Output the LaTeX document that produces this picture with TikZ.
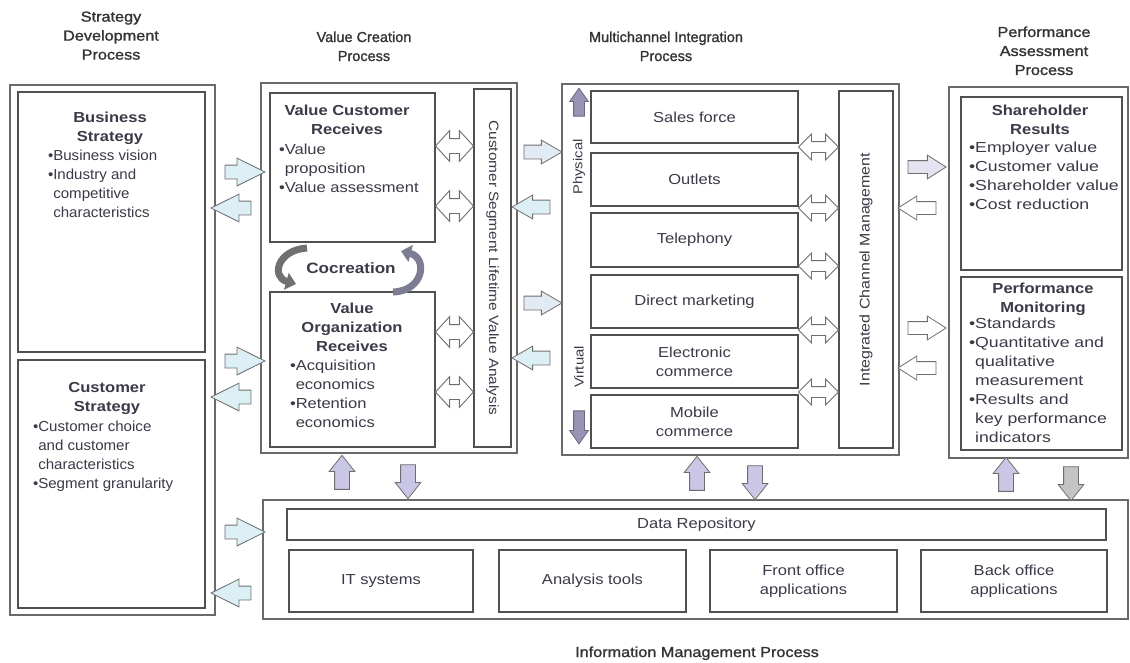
\documentclass[tikz,border=0pt]{standalone}
\usepackage{fontspec}
\setmainfont[FakeStretch=1.14]{Liberation Sans}
\newfontfamily\leftfont[FakeStretch=1.04]{Liberation Sans}
\newfontfamily\rightfont[FakeStretch=1.22]{Liberation Sans}
\newfontfamily\headfont[FakeStretch=1.12,FakeBold=1.3]{Liberation Sans}
\newfontfamily\midheadfont[FakeBold=1.3]{Liberation Sans}
\usetikzlibrary{shapes.arrows,arrows.meta,fit}

\definecolor{txt}{HTML}{3A3A48}
\definecolor{headtxt}{HTML}{333333}
\definecolor{outerline}{HTML}{6A6A6A}
\definecolor{innerline}{HTML}{505050}
\definecolor{arrline}{HTML}{6E6E6E}
\definecolor{cyanfill}{HTML}{DCEFF5}
\definecolor{mixfill}{HTML}{E2EAF4}
\definecolor{lavlight}{HTML}{E6E2F0}
\definecolor{lavfill}{HTML}{C9C6E6}
\definecolor{greyfill}{HTML}{C4C4C4}
\definecolor{physfill}{HTML}{9A93B5}
\definecolor{cocleft}{HTML}{707070}
\definecolor{cocright}{HTML}{7C7C92}

\newcommand{\hang}{\phantom{•}}
\newcommand{\txtsize}{\fontsize{14.5}{19}\selectfont}

\tikzset{
  every node/.style={text=txt, inner sep=0pt, outer sep=0pt, font=\txtsize},
  outerbox/.style={draw=outerline, line width=1.2pt, inner sep=0pt},
  innerbox/.style={draw=innerline, line width=1.5pt, fill=white, inner sep=0pt},
  boxtext/.style={align=center},
  heading/.style={align=center, text=headtxt, anchor=north, font=\headfont\txtsize},
  midheading/.style={heading, font=\midheadfont\txtsize},
  boxtitle/.style={align=center, anchor=north, font=\bfseries\txtsize},
  bullets/.style={align=left, anchor=north west},
  sarrow/.style n args={4}{single arrow, draw=arrline, line width=0.8pt,
    inner sep=#1, single arrow head extend=#2, single arrow tip angle=#3,
    minimum height=#4, minimum width=0pt},
  darrow/.style n args={4}{double arrow, draw=arrline, line width=0.9pt,
    inner sep=#1, double arrow head extend=#2, double arrow tip angle=#3,
    minimum height=#4, minimum width=0pt, fill=white},
  sidearrow/.style={sarrow={6.5pt}{7pt}{53}{40pt}, fill=cyanfill},
  midarrow/.style={sarrow={6.5pt}{5pt}{60}{38pt}},
  perfarrow/.style={sarrow={6pt}{5.5pt}{65}{38pt}},
  vertarrow/.style={sarrow={7pt}{5.5pt}{77}{34pt}},
  pairarrow/.style={darrow={7pt}{8pt}{95}{38pt}},
  chanarrow/.style={darrow={5pt}{7.5pt}{90}{40pt}},
  flowarrow/.style={sarrow={5pt}{4pt}{70}{#1}, fill=physfill, draw=physfill!70!black},
  cocarrow/.style={line width=7pt, draw=#1, -{Triangle[length=10pt,width=17pt]}},
}

\begin{document}
\begin{tikzpicture}[x=1pt,y=-1pt]
\useasboundingbox (0,0) rectangle (1130,662);

% column headings
\node[heading] (hsd) at (111,11.5) {Strategy\\Development\\Process};
\node[midheading] (hvc) at (364,31.5) {Value Creation\\Process};
\node[midheading] (hmi) at (666,31.5) {Multichannel Integration\\Process};
\node[heading] (hpa) at (1044,26.5) {Performance\\Assessment\\Process};
\node[heading] (him) at (697,646.5) {Information Management Process};

% outer process frames
\node[outerbox, fit={(10,85) (215,615)}] (sdp) {};
\node[outerbox, fit={(261,83) (517,453)}] (vcp) {};
\node[outerbox, fit={(562,84) (899,455)}] (mip) {};
\node[outerbox, fit={(949,87) (1128,458)}] (pap) {};
\node[outerbox, fit={(263,500) (1128,619)}] (imp) {};

% strategy development
\node[innerbox, fit={(18,92) (205,352)}] (bs) {};
\node[innerbox, fit={(18,360) (205,608)}] (cs) {};
\node[boxtitle] (bst) at (110,111.5) {Business\\Strategy};
\node[bullets, font=\leftfont\txtsize] (bsl) at (48,149.5)
  {•Business vision\\•Industry and\\\hang competitive\\\hang characteristics};
\node[boxtitle] (cst) at (107,382.5) {Customer\\Strategy};
\node[bullets, font=\leftfont\txtsize] (csl) at (33,420.5)
  {•Customer choice\\\hang and customer\\\hang characteristics\\•Segment granularity};

% value creation
\node[innerbox, fit={(270,93) (435,242)}] (vcr) {};
\node[innerbox, fit={(270,292) (435,447)}] (vor) {};
\node[innerbox, fit={(474,89) (511,447)}] (cslva) {};
\node[rotate=-90, font=\fontsize{13.5}{16}\selectfont] (cslvat) at (cslva.center)
  {Customer Segment Lifetime Value Analysis};
\node[boxtitle] (vcrt) at (347,104.5) {Value Customer\\Receives};
\node[bullets] (vcrl) at (279,143.5) {•Value\\\hang proposition\\•Value assessment};
\node[boxtitle] (vort) at (352,302.5) {Value\\Organization\\Receives};
\node[bullets] (vorl) at (290,359.5)
  {•Acquisition\\\hang economics\\•Retention\\\hang economics};

% cocreation loop
\draw[cocarrow=cocleft] (307,248) .. controls (277,250) and (271,277) .. (296,284);
\draw[cocarrow=cocright] (393,292) .. controls (424,291) and (428,258) .. (401,251);
\node[font=\bfseries\fontsize{15}{18}\selectfont] (coc) at (351,268) {Cocreation};

% multichannel integration
\node[innerbox, fit={(591,91) (798,143)}] (sales) {};
\node[innerbox, fit={(591,153) (798,206)}] (outlets) {};
\node[innerbox, fit={(591,213) (798,267)}] (tel) {};
\node[innerbox, fit={(591,275) (798,328)}] (dm) {};
\node[innerbox, fit={(591,335) (798,388)}] (ec) {};
\node[innerbox, fit={(591,395) (798,448)}] (mc) {};
\node[boxtext] (salest) at (sales.center) {Sales force};
\node[boxtext] (outletst) at (outlets.center) {Outlets};
\node[boxtext] (telt) at (tel.center) {Telephony};
\node[boxtext] (dmt) at (dm.center) {Direct marketing};
\node[boxtext] (ect) at (ec.center) {Electronic\\commerce};
\node[boxtext] (mct) at (mc.center) {Mobile\\commerce};
\node[innerbox, fit={(839,91) (893,448)}] (icm) {};
\node[rotate=90, font=\fontsize{14}{17}\selectfont] (icmt) at (icm.center)
  {Integrated Channel Management};
\node[rotate=90, font=\fontsize{13}{16}\selectfont] (phys) at (579,167) {Physical};
\node[rotate=90, font=\fontsize{13}{16}\selectfont] (virt) at (579,367) {Virtual};
\node[flowarrow=28pt, shape border rotate=90] (physarr) at (579,106) {};
\node[flowarrow=33pt, shape border rotate=270] (virtarr) at (579,423.5) {};

% performance assessment
\node[innerbox, fit={(961,97) (1122,270)}] (sr) {};
\node[innerbox, fit={(961,277) (1122,450)}] (pm) {};
\node[boxtitle] (srt) at (1040,104.5) {Shareholder\\Results};
\node[bullets, font=\rightfont\txtsize] (srl) at (969,141.5)
  {•Employer value\\•Customer value\\•Shareholder value\\•Cost reduction};
\node[boxtitle] (pmt) at (1043,282.5) {Performance\\Monitoring};
\node[bullets, font=\rightfont\txtsize] (pml) at (969,317.5)
  {•Standards\\•Quantitative and\\\hang qualitative\\\hang measurement\\•Results and\\\hang key performance\\\hang indicators};

% information management
\node[innerbox, fit={(287,509) (1106,540)}] (dr) {};
\node[innerbox, fit={(289,550) (473,612)}] (its) {};
\node[innerbox, fit={(499,550) (686,612)}] (ant) {};
\node[innerbox, fit={(710,550) (897,612)}] (foa) {};
\node[innerbox, fit={(921,550) (1107,612)}] (boa) {};
\node[boxtext] (drt) at (dr.center) {Data Repository};
\node[boxtext] (itst) at (its.center) {IT systems};
\node[boxtext] (antt) at (ant.center) {Analysis tools};
\node[boxtext] (foat) at (foa.center) {Front office\\applications};
\node[boxtext] (boat) at (boa.center) {Back office\\applications};

% strategy <-> value creation / information management
\node[sidearrow] (s1) at (238,172) {};
\node[sidearrow, shape border rotate=180] (s2) at (238,208) {};
\node[sidearrow] (s3) at (238,361) {};
\node[sidearrow, shape border rotate=180] (s4) at (238,397) {};
\node[sidearrow] (s5) at (238,532) {};
\node[sidearrow, shape border rotate=180] (s6) at (238,593) {};

% value boxes <-> lifetime value analysis
\node[pairarrow] (p1) at (454.5,146) {};
\node[pairarrow] (p2) at (454.5,206) {};
\node[pairarrow] (p3) at (454.5,332) {};
\node[pairarrow] (p4) at (454.5,392) {};

% value creation <-> multichannel
\node[midarrow, fill=mixfill] (m1) at (537,152) {};
\node[midarrow, fill=cyanfill, shape border rotate=180] (m2) at (537,207) {};
\node[midarrow, fill=mixfill] (m3) at (537,303) {};
\node[midarrow, fill=cyanfill, shape border rotate=180] (m4) at (537,358) {};

% channels <-> integrated channel management
\node[chanarrow] (c1) at (818.5,147) {};
\node[chanarrow] (c2) at (818.5,208) {};
\node[chanarrow] (c3) at (818.5,266) {};
\node[chanarrow] (c4) at (818.5,330) {};
\node[chanarrow] (c5) at (818.5,392) {};

% multichannel <-> performance
\node[perfarrow, fill=lavlight] (q1) at (922,167) {};
\node[perfarrow, fill=white, shape border rotate=180] (q2) at (922,208) {};
\node[perfarrow, fill=white] (q3) at (922,328) {};
\node[perfarrow, fill=white, shape border rotate=180] (q4) at (922,368) {};

% processes <-> information management
\node[vertarrow, fill=lavfill, shape border rotate=90] (v1) at (342,477) {};
\node[vertarrow, fill=lavfill, shape border rotate=270] (v2) at (408,477) {};
\node[vertarrow, fill=lavfill, shape border rotate=90] (v3) at (697,478) {};
\node[vertarrow, fill=lavfill, shape border rotate=270] (v4) at (755,478) {};
\node[vertarrow, fill=lavfill, shape border rotate=90] (v5) at (1006,479) {};
\node[vertarrow, fill=greyfill, shape border rotate=270] (v6) at (1071,479) {};
\end{tikzpicture}
\end{document}
